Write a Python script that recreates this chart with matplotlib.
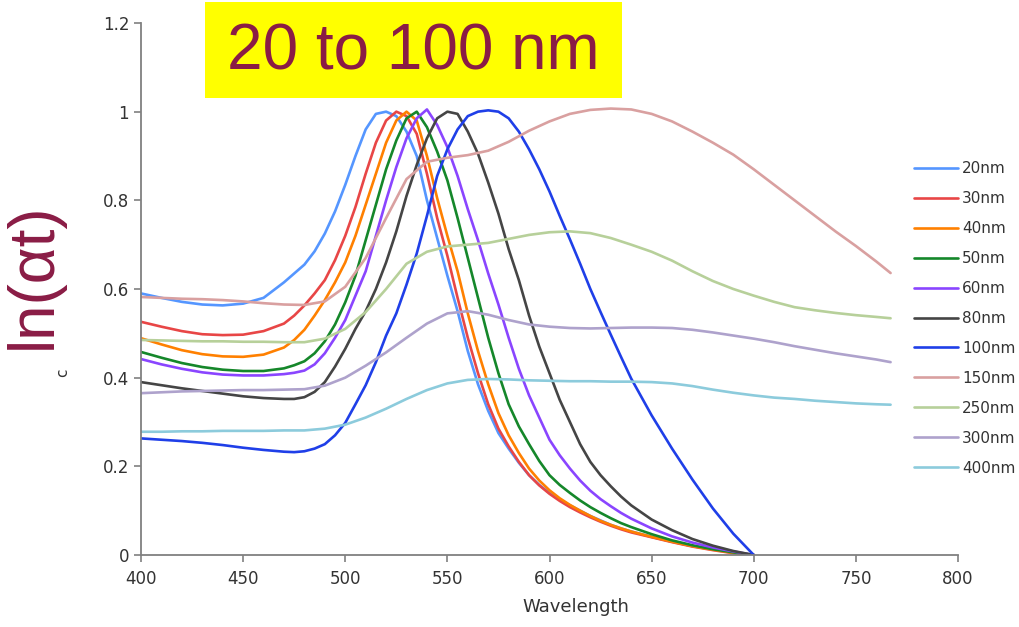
import matplotlib
matplotlib.use("Agg")
import matplotlib.pyplot as plt
from matplotlib.patches import Rectangle

# ---------------- data ----------------
wl_small = [400, 410, 420, 430, 440, 450, 460, 470,
            475, 480, 485, 490, 495, 500, 505, 510, 515, 520, 525, 530, 535, 540,
            545, 550, 555, 560, 565, 570, 575, 580, 585, 590, 595, 600, 605, 610,
            615, 620, 625, 630, 635, 640,
            650, 660, 670, 680, 690, 700]

ln_20 = [.590, .580, .571, .565, .563, .567, .580, .615,
         .635, .655, .685, .725, .775, .835, .900, .960, .995, 1.000, .990, .955, .900, .800,
         .715, .630, .550, .460, .385, .325, .275, .240, .208, .180, .158, .140, .125, .112,
         .100, .088, .078, .068, .060, .053,
         .041, .030, .020, .013, .006, 0.0]
ln_30 = [.526, .515, .505, .498, .496, .497, .505, .522,
         .540, .563, .590, .620, .665, .720, .785, .860, .930, .980, 1.000, .990, .950, .860,
         .760, .675, .580, .490, .410, .340, .285, .245, .210, .180, .157, .138, .122, .108,
         .096, .085, .075, .066, .058, .051,
         .040, .029, .019, .011, .004, 0.0]
ln_40 = [.489, .475, .462, .453, .448, .447, .452, .468,
         .485, .508, .540, .575, .615, .660, .720, .790, .860, .930, .980, 1.000, .980, .900,
         .805, .720, .640, .545, .460, .385, .320, .270, .230, .195, .168, .146, .128, .113,
         .100, .088, .077, .068, .060, .053,
         .041, .030, .020, .012, .005, 0.0]
ln_50 = [.458, .445, .433, .424, .418, .415, .415, .421,
         .428, .437, .455, .482, .520, .570, .630, .710, .790, .870, .935, .985, 1.000, .965,
         .910, .845, .760, .670, .580, .490, .410, .340, .290, .250, .212, .180, .158, .140,
         .123, .108, .095, .083, .072, .063,
         .047, .033, .022, .013, .006, 0.0]
ln_60 = [.442, .430, .420, .412, .407, .405, .405, .408,
         .411, .416, .430, .455, .490, .530, .585, .640, .720, .800, .875, .940, .985, 1.005,
         .970, .920, .855, .780, .710, .635, .565, .490, .420, .360, .310, .260, .225, .195,
         .168, .145, .126, .110, .095, .082,
         .060, .042, .028, .017, .008, 0.0]
ln_80 = [.390, .383, .376, .370, .364, .358, .354, .352,
         .352, .356, .368, .390, .425, .465, .510, .550, .600, .660, .730, .810, .880, .940,
         .985, 1.000, .995, .955, .905, .840, .770, .690, .620, .540, .470, .410, .350, .300,
         .250, .210, .180, .155, .132, .112,
         .080, .056, .036, .021, .009, 0.0]
ln_100 = [.263, .260, .257, .253, .248, .242, .237, .233,
          .232, .234, .240, .250, .270, .298, .340, .383, .435, .495, .545, .610, .680, .765,
          .855, .915, .960, .990, 1.000, 1.003, 1.000, .985, .955, .915, .870, .820, .765, .712,
          .657, .600, .548, .497, .447, .398,
          .315, .240, .170, .105, .048, 0.0]

wl_large = [400, 410, 420, 430, 440, 450, 460, 470, 480, 490, 500, 510, 520, 530,
            540, 550, 560, 570, 580, 590, 600, 610, 620, 630, 640, 650, 660, 670,
            680, 690, 700, 710, 720, 730, 740, 750, 760, 767]

ln_150 = [.582, .580, .578, .577, .575, .572, .568, .565, .564, .572, .605, .670, .760, .848,
          .887, .896, .902, .912, .932, .957, .978, .995, 1.004, 1.007, 1.005, .995, .978, .955,
          .930, .903, .870, .835, .800, .765, .730, .697, .662, .636]
ln_250 = [.485, .484, .483, .482, .482, .481, .481, .480, .480, .488, .510, .548, .600, .657,
          .684, .696, .700, .704, .713, .722, .728, .730, .726, .715, .700, .684, .664, .640,
          .618, .600, .585, .571, .559, .552, .546, .541, .537, .534]
ln_300 = [.365, .367, .369, .370, .371, .372, .372, .373, .374, .382, .400, .427, .457, .490,
          .522, .545, .550, .542, .530, .520, .515, .512, .511, .512, .513, .513, .512, .508,
          .502, .495, .488, .480, .471, .463, .455, .448, .441, .435]
ln_400 = [.278, .278, .279, .279, .280, .280, .280, .281, .281, .285, .294, .310, .330, .352,
          .372, .387, .395, .397, .396, .394, .393, .392, .392, .391, .391, .390, .387, .381,
          .373, .366, .360, .355, .352, .348, .345, .342, .340, .339]

labels = ["20nm", "30nm", "40nm", "50nm", "60nm", "80nm", "100nm",
          "150nm", "250nm", "300nm", "400nm"]
colors = ["#5596ff", "#e84646", "#ff8000", "#15872a", "#8a45ff", "#454545", "#1f3fe8",
          "#d9a0a0", "#b7d09a", "#aea2cc", "#8ccbdc"]

x_ticks = [400, 450, 500, 550, 600, 650, 700, 750, 800]
y_ticks = [0, 0.2, 0.4, 0.6, 0.8, 1.0, 1.2]
y_tick_labels = ["0", "0.2", "0.4", "0.6", "0.8", "1", "1.2"]

# ---------------- figure ----------------
W, H = 1019, 627
fig = plt.figure(figsize=(W / 100, H / 100), dpi=100)
ax = fig.add_axes([141 / W, 1 - 555 / H, (958 - 141) / W, (555 - 23) / H])

series = [(wl_small, ln_20), (wl_small, ln_30), (wl_small, ln_40), (wl_small, ln_50),
          (wl_small, ln_60), (wl_small, ln_80), (wl_small, ln_100),
          (wl_large, ln_150), (wl_large, ln_250), (wl_large, ln_300), (wl_large, ln_400)]
for (xs, ys), lab, col in zip(series, labels, colors):
    ax.plot(xs, ys, color=col, lw=1.9, label=lab, solid_capstyle="round",
            solid_joinstyle="round")

ax.set_xlim(400, 800)
ax.set_ylim(0, 1.2)
ax.set_xticks(x_ticks)
ax.set_yticks(y_ticks)
ax.set_yticklabels(y_tick_labels)
for s in ["top", "right"]:
    ax.spines[s].set_visible(False)
for s in ["left", "bottom"]:
    ax.spines[s].set_color("#808080")
    ax.spines[s].set_linewidth(1.3)
ax.tick_params(axis="both", colors="#808080", labelcolor="#333333",
               labelsize=12, length=5, width=1.2, direction="out")
ax.tick_params(axis="x", pad=6)
ax.set_xlabel("Wavelength", fontsize=13, color="#333333")
ax.xaxis.set_label_coords((576 - 141) / (958 - 141), -(598 - 555) / (555 - 23))
ax.xaxis.label.set_va("top")

leg = fig.legend(loc="upper left", bbox_to_anchor=(914 / W, 1 - 161 / H),
                 frameon=False, fontsize=11, handlelength=2.9, handletextpad=0.25,
                 labelspacing=0.98, borderaxespad=0, borderpad=0)
for t in leg.get_texts():
    t.set_color("#333333")

# stray original axis-label remnant
fig.text(63 / W, 1 - 373 / H, "c", rotation=90, fontsize=11, color="#333333",
         ha="center", va="center")

# big y label
fig.text(34 / W, 1 - 276 / H, "ln(αt)", rotation=90, fontsize=46, color="#8a1c45",
         family="Liberation Sans", ha="center", va="center")

# yellow title box
fig.patches.append(Rectangle((205 / W, 1 - 98 / H), (622 - 205) / W, 96 / H,
                             transform=fig.transFigure, facecolor="#ffff00",
                             edgecolor="none", zorder=5))
fig.text(413 / W, 1 - 52 / H, "20 to 100 nm", fontsize=46, color="#8a1c45",
         family="Liberation Sans", ha="center", va="center", zorder=6)

fig.savefig("out.png", dpi=100)
